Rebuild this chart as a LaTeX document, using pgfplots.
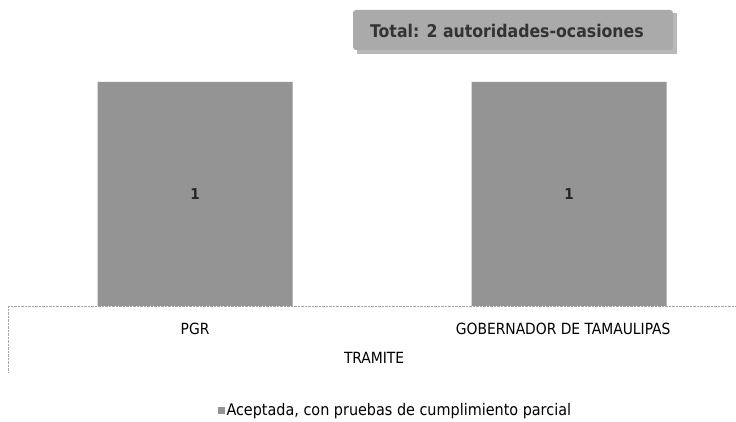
\documentclass[border=0pt]{standalone}
\usepackage{pgfplots}
\pgfplotsset{compat=1.18}
\usepackage{fontspec}
\setmainfont{DejaVu Sans Condensed}
\definecolor{barg}{RGB}{148,148,148}
\definecolor{boxg}{RGB}{170,170,170}
\begin{document}
\begin{tikzpicture}[x=1pt,y=1pt]
\useasboundingbox (0,0) rectangle (736,422);
\begin{axis}[
  at={(8pt,116pt)}, anchor=south west,
  width=728pt, height=224pt, scale only axis,
  xmin=-0.5, xmax=1.446, ymin=0, ymax=1,
  axis lines=none,
  xtick=data, xticklabels={}, ytick=\empty,
  /pgf/number format/assume math mode=true,
  ybar, bar width=195pt, bar shift=0pt,
  clip=false,
  nodes near coords,
  every node near coord/.style={anchor=center, yshift=-112pt, font=\fontsize{15}{17}\selectfont\bfseries, text=black!85},
  legend style={at={(0.532,-0.465)}, anchor=center, draw=none, fill=none, font=\fontsize{16}{18}\selectfont, legend cell align=left, inner sep=0pt},
  legend image code/.code={\fill[barg] (0pt,-3.5pt) rectangle (7pt,3.5pt);},
]
\addplot[fill=barg, draw=none] coordinates {(0,1) (1,1)};
\addlegendentry{Aceptada, con pruebas de cumplimiento parcial}
\draw[densely dotted, gray!70] (axis cs:-0.5,0) -- (axis cs:1.446,0);
\draw[densely dotted, gray!70] (axis cs:-0.5,0) -- ([yshift=-66pt]axis cs:-0.5,0);
\node[font=\fontsize{15.4}{17}\selectfont] at ([yshift=-23pt]axis cs:0,0) {PGR};
\node[font=\fontsize{15.4}{17}\selectfont] at ([yshift=-23pt,xshift=-6pt]axis cs:1,0) {GOBERNADOR DE TAMAULIPAS};
\node[font=\fontsize{15.4}{17}\selectfont] at ([yshift=-52pt,xshift=-8pt]axis cs:0.5,0) {TRAMITE};
\end{axis}
\fill[gray!55] (357,368) rectangle (677,409);
\fill[boxg, rounded corners=3pt] (353,372) rectangle (673,412);
\node[font=\fontsize{17.5}{19}\selectfont\bfseries, text=black!80] at (507,391) {Total: 2 autoridades-ocasiones};
\end{tikzpicture}
\end{document}
